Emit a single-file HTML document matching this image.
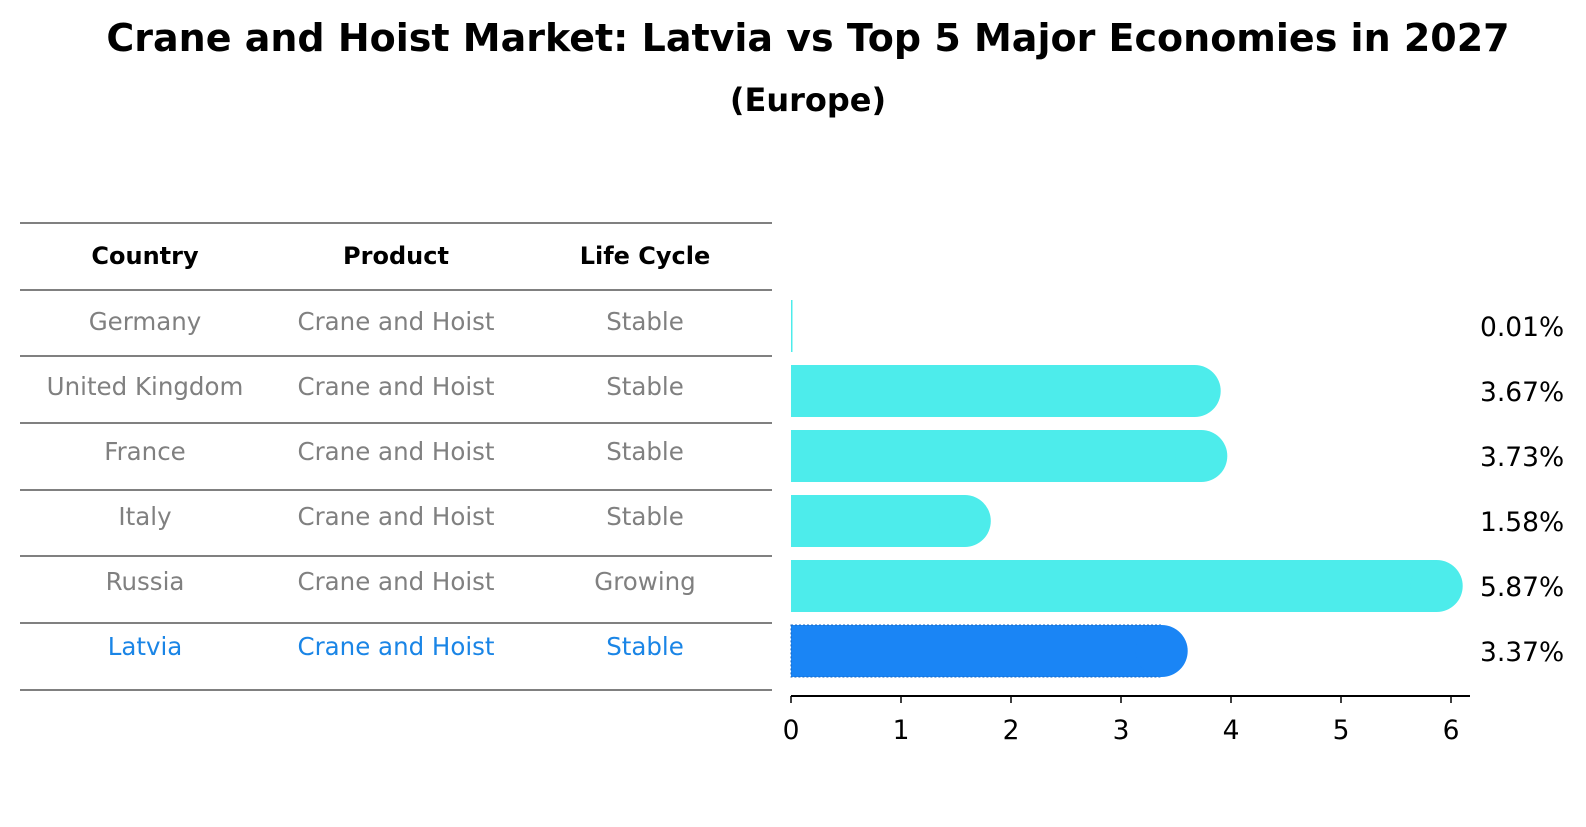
<!DOCTYPE html>
<html><head><meta charset="utf-8"><style>
body{margin:0;background:#fff;font-family:"DejaVu Sans","Liberation Sans",sans-serif;}
svg text{font-family:"DejaVu Sans","Liberation Sans",sans-serif;}
</style></head><body>
<svg id="chart" width="1586" height="823" xmlns="http://www.w3.org/2000/svg">
<text x="808" y="51" text-anchor="middle" font-size="38" font-weight="bold">Crane and Hoist Market: Latvia vs Top 5 Major Economies in 2027</text>
<text x="808" y="111" text-anchor="middle" font-size="32" font-weight="bold">(Europe)</text>
<g id="table"></g>
<g id="bars"></g>
<g id="axis"></g>
</svg>
<script>
const countries=["Germany","United Kingdom","France","Italy","Russia","Latvia"];
const products=["Crane and Hoist","Crane and Hoist","Crane and Hoist","Crane and Hoist","Crane and Hoist","Crane and Hoist"];
const lifeCycles=["Stable","Stable","Stable","Stable","Growing","Stable"];
const values=[0.01,3.67,3.73,1.58,5.87,3.37];
const valueLabels=["0.01%","3.67%","3.73%","1.58%","5.87%","3.37%"];
const ticks=[0,1,2,3,4,5,6];
const headers=["Country","Product","Life Cycle"];

const NS="http://www.w3.org/2000/svg";
function mk(t,a,p){const e=document.createElementNS(NS,t);for(const k in a)e.setAttribute(k,a[k]);p.appendChild(e);return e;}
const x=v=>791+v*110;
const rowY=i=>326+i*65;
const lines=[223,290,356,423,490,556,623,690];
const tbl=document.getElementById('table'),bars=document.getElementById('bars'),ax=document.getElementById('axis');
const colX=[145,396,645];
lines.forEach((y)=>{const l=mk('line',{x1:20,x2:772,y1:y,y2:y,stroke:'#000','stroke-width':1},tbl);

});
headers.forEach((h,j)=>{const t=mk('text',{x:colX[j],y:264,'text-anchor':'middle','font-size':24,'font-weight':'bold'},tbl);t.textContent=h;

});
countries.forEach((c,i)=>{
  const last=i===countries.length-1;const col=last?'#1a85e6':'#808080';
  [c,products[i],lifeCycles[i]].forEach((s,j)=>{
    const t=mk('text',{x:colX[j],y:rowY(i)+4,'text-anchor':'middle','font-size':24.5,fill:col},tbl);t.textContent=s;
    
    
  });
  const cy=rowY(i),h=52,r=26;const fill=last?'#1a85f5':'#4deceb';
  const w=x(values[i])-x(0);
  const g=mk('g',{},bars);
  
  
  mk('rect',{x:x(0),y:cy-h/2,width:Math.max(w,1.5),height:h,fill:fill,stroke:last?'#1565c0':'none','stroke-dasharray':'2,2','stroke-width':1},g);
  if(values[i]>0.05)mk('circle',{cx:x(values[i]),cy:cy,r:r,fill:fill},g);
  const t=mk('text',{x:1480,y:cy+10,'font-size':26.5},bars);t.textContent=valueLabels[i];
  
  
});
mk('line',{x1:x(0),x2:1470,y1:696,y2:696,stroke:'#000','stroke-width':2},ax);
ticks.forEach(v=>{mk('line',{x1:x(v),x2:x(v),y1:696,y2:703,stroke:'#000','stroke-width':1.5},ax);
const t=mk('text',{x:x(v),y:739,'text-anchor':'middle','font-size':26.5},ax);t.textContent=v;

});
</script>
</body></html>
